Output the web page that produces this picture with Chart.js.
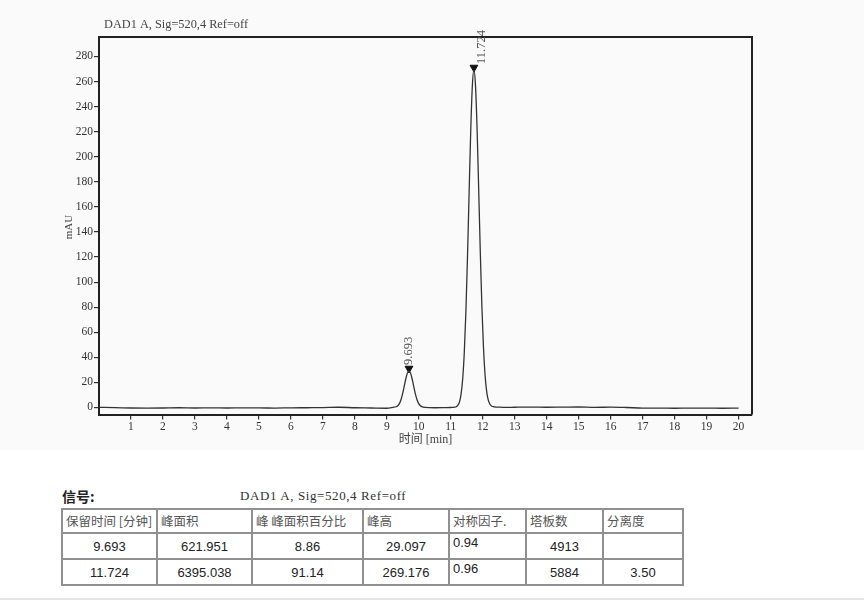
<!DOCTYPE html>
<html>
<head>
<meta charset="utf-8">
<script src="https://cdn.jsdelivr.net/npm/chart.js@4.4.1/dist/chart.umd.min.js"></script>
<style>
  html, body { margin: 0; padding: 0; background: #fff; }
  #wrap { position: relative; width: 864px; height: 603px; overflow: hidden; }
  #plot { position: absolute; left: 0; top: 0; width: 864px; height: 450px; background: #fafafa; }
  #sigLabel { position: absolute; left: 62px; top: 486px; font: bold 14px "Noto Sans CJK SC", sans-serif; color: #222; }
  #sigText { position: absolute; left: 240px; top: 488px; font: 13px "Liberation Serif", serif; letter-spacing: 0.6px; color: #333; }
  table { position: absolute; left: 61px; top: 508px; border-collapse: collapse; table-layout: fixed; }
  td { border: 2px solid #909090; padding: 0 3px; font: 13px/16px "Liberation Sans", Arial, sans-serif; color: #222; text-align: center; overflow: hidden; white-space: nowrap; }
  tr.head td { height: 22px; text-align: left; font: 12.5px/16px "Noto Sans CJK SC", sans-serif; color: #555; vertical-align: middle; }
  tr.row td { height: 23px; padding-top: 1px; }
  td.left { text-align: left; vertical-align: top; }
  #bottomLine { position: absolute; left: 0; top: 598px; width: 864px; height: 2px; background: #e6e6e6; }
</style>
</head>
<body>
<div id="wrap">
  <div id="plot"><canvas id="chrom" width="864" height="450"></canvas></div>
  <div id="sigLabel">信号:</div>
  <div id="sigText">DAD1 A, Sig=520,4 Ref=off</div>
  <table id="peakTable">
    <colgroup>
      <col style="width:95px"><col style="width:95px"><col style="width:111px"><col style="width:86px">
      <col style="width:77px"><col style="width:77px"><col style="width:80px">
    </colgroup>
    <tbody></tbody>
  </table>
  <div id="bottomLine"></div>
</div>
<script>
// chromatogram trace (time in min, signal in mAU)
const traceTimes = [
  0, 0.5, 1, 1.5, 2, 2.5, 3, 3.5, 4, 4.5, 5, 5.5, 6, 6.5, 7, 7.5, 8, 8.5, 9, 9.193,
  9.293, 9.343, 9.393, 9.443, 9.493, 9.543, 9.593, 9.643, 9.693, 9.743, 9.793, 9.843,
  9.893, 9.943, 9.993, 10.043, 10.093, 10.193, 10.5, 10.8, 11.0, 11.124,
  11.174, 11.224, 11.274, 11.324, 11.374, 11.424, 11.474, 11.524, 11.574, 11.624, 11.674,
  11.724, 11.774, 11.824, 11.874, 11.924, 11.974, 12.024, 12.074, 12.124, 12.174, 12.224,
  12.274, 12.374, 12.5, 12.7, 13, 13.5, 14, 14.5, 15, 15.5, 16, 16.5, 17, 17.5, 18, 18.5, 19, 19.5, 20
];
const traceValues = [
  0.1, -0.1, -0.4, -0.5, -0.4, -0.2, -0.4, -0.3, -0.4, -0.3, -0.3, -0.5, -0.3, -0.2, -0.1, 0.2, -0.2, -0.4, -0.6, 0.1,
  0.6, 1.4, 3.1, 6.2, 10.8, 16.7, 22.7, 27.4, 29.1, 27.4, 22.7, 16.7,
  10.9, 6.4, 3.3, 1.6, 0.7, 0.1, -0.2, -0.1, 0.0, 0.2,
  0.6, 1.8, 4.6, 10.9, 23.1, 44.5, 77, 120.8, 171.5, 220.4, 256,
  269.2, 256.5, 221.5, 173.5, 123.5, 80, 47.5, 25.5, 12.5, 5.8, 2.6,
  1.2, 0.5, 0.3, 0.1, 0.2, 0.3, 0.2, 0.3, 0.4, 0.1, 0.3, 0.0, -0.5, -0.5, -0.6, -0.5, -0.5, -0.6, -0.5
];

// integrated peaks
const peakTimes = [9.693, 11.724];
const peakAreas = [621.951, 6395.038];
const peakAreaPct = [8.86, 91.14];
const peakHeights = [29.097, 269.176];
const peakSymmetry = [0.94, 0.96];
const peakPlates = [4913, 5884];
const peakResolution = ['', 3.50];

const tableHeaders = ['保留时间 [分钟]', '峰面积', '峰 峰面积百分比', '峰高', '对称因子.', '塔板数', '分离度'];
const yTicks = [0, 20, 40, 60, 80, 100, 120, 140, 160, 180, 200, 220, 240, 260, 280];
const xTicks = [1, 2, 3, 4, 5, 6, 7, 8, 9, 10, 11, 12, 13, 14, 15, 16, 17, 18, 19, 20];

const signalName = 'DAD1 A, Sig=520,4 Ref=off';
const serif = '"Liberation Serif", "Noto Sans CJK SC", serif';

// fill the results table
const tbody = document.querySelector('#peakTable tbody');
let html = '<tr class="head">' + tableHeaders.map(h => `<td>${h}</td>`).join('') + '</tr>';
peakTimes.forEach((t, i) => {
    html += '<tr class="row">' +
        `<td>${t.toFixed(3)}</td>` +
        `<td>${peakAreas[i].toFixed(3)}</td>` +
        `<td>${peakAreaPct[i].toFixed(2)}</td>` +
        `<td>${peakHeights[i].toFixed(3)}</td>` +
        `<td class="left">${peakSymmetry[i].toFixed(2)}</td>` +
        `<td>${peakPlates[i]}</td>` +
        `<td>${peakResolution[i] === '' ? '' : Number(peakResolution[i]).toFixed(2)}</td>` +
        '</tr>';
});
tbody.innerHTML = html;

// frame, texts and peak labels the axes don't draw themselves
const decorations = {
    id: 'decorations',
    afterDraw(chart) {
        const { ctx, chartArea: a, scales } = chart;
        ctx.save();
        ctx.strokeStyle = '#222';
        ctx.lineWidth = 2;
        ctx.beginPath();
        ctx.moveTo(a.left, a.top);
        ctx.lineTo(a.right, a.top);
        ctx.lineTo(a.right, a.bottom);
        ctx.stroke();

        // signal title, squeezed to the width it has in the print
        ctx.fillStyle = '#444';
        ctx.font = '12px ' + serif;
        ctx.textBaseline = 'middle';
        const w = ctx.measureText(signalName).width;
        ctx.save();
        ctx.translate(a.left + 5, 25);
        ctx.scale(144 / w, 1);
        ctx.fillText(signalName, 0, 0);
        ctx.restore();

        // axis titles
        ctx.textAlign = 'center';
        ctx.font = '12px ' + serif;
        ctx.fillText('时间 [min]', (a.left + a.right) / 2, 440);
        ctx.save();
        ctx.translate(69, 227);
        ctx.rotate(-Math.PI / 2);
        ctx.font = '11px ' + serif;
        ctx.fillText('mAU', 0, 0);
        ctx.restore();

        // retention time labels over each peak
        const shift = [0, 8];
        peakTimes.forEach((t, i) => {
            const px = scales.x.getPixelForValue(t) + shift[i];
            const py = scales.y.getPixelForValue(peakHeights[i]) - 6;
            ctx.save();
            ctx.translate(px, py);
            ctx.rotate(-Math.PI / 2);
            ctx.textAlign = 'left';
            ctx.fillStyle = '#555';
            ctx.font = '12.5px ' + serif;
            ctx.fillText(t.toFixed(3), 0, 0);
            ctx.restore();
        });
        ctx.restore();
    }
};

new Chart(document.getElementById('chrom'), {
    type: 'line',
    data: {
        datasets: [{
            label: 'trace',
            data: traceTimes.map((t, i) => ({ x: t, y: traceValues[i] })),
            borderColor: '#333',
            borderWidth: 1.3,
            pointRadius: 0,
            cubicInterpolationMode: 'monotone',
            fill: false
        }, {
            label: 'peaks',
            data: peakTimes.map((t, i) => ({ x: t, y: peakHeights[i] + 2 })),
            showLine: false,
            pointStyle: 'triangle',
            rotation: 180,
            pointRadius: 4.5,
            backgroundColor: '#111',
            borderColor: '#111',
            borderWidth: 1
        }]
    },
    options: {
        responsive: false,
        animation: false,
        devicePixelRatio: 1,
        layout: { padding: { top: 37, right: 112, left: 0, bottom: 0 } },
        plugins: {
            legend: { display: false },
            tooltip: { enabled: false }
        },
        scales: {
            x: {
                type: 'linear',
                min: 0,
                max: 20.42,
                afterFit: s => { s.height = 35.5; },
                afterBuildTicks: s => { s.ticks = xTicks.map(v => ({ value: v })); },
                ticks: {
                    font: { family: serif, size: 11.5 },
                    color: '#333',
                    padding: 1,
                    maxRotation: 0,
                    autoSkip: false,
                    callback: v => String(v)
                },
                grid: { drawOnChartArea: false, drawTicks: true, tickLength: 5, color: '#333', lineWidth: 1.2 },
                border: { display: true, color: '#222', width: 2 }
            },
            y: {
                min: -5.6,
                max: 295.5,
                afterFit: s => { s.width = 99; },
                afterBuildTicks: s => { s.ticks = yTicks.map(v => ({ value: v })); },
                ticks: {
                    font: { family: serif, size: 11.5 },
                    color: '#333',
                    padding: 1,
                    autoSkip: false,
                    callback: v => String(v)
                },
                grid: { drawOnChartArea: false, drawTicks: true, tickLength: 5, color: '#333', lineWidth: 1.2 },
                border: { display: true, color: '#222', width: 2 }
            }
        }
    },
    plugins: [decorations]
});
</script>
</body>
</html>
